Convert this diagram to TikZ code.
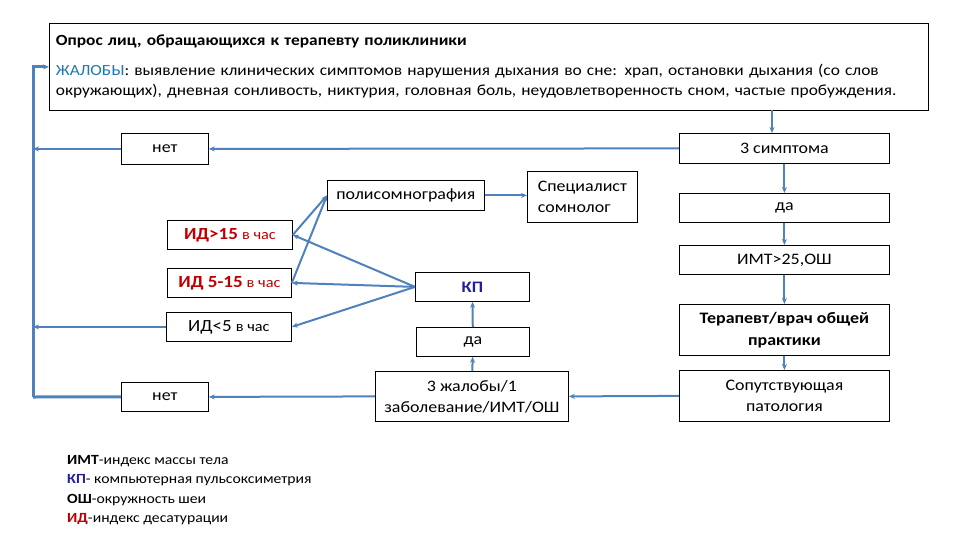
\documentclass[tikz,border=0pt]{standalone}
\usepackage{fontspec}
\setmainfont[FakeStretch=1.12]{Carlito}
\usepackage{tikz}
\usetikzlibrary{arrows.meta, calc}

\definecolor{linkblue}{HTML}{4F81BD}
\definecolor{complblue}{HTML}{1F78B4}
\definecolor{kpblue}{HTML}{1F1FA0}
\definecolor{idred}{HTML}{C00000}

\tikzset{
  box/.style={draw=black, line width=0.8pt, fill=white, inner sep=2pt, align=center,
    anchor=north west, font=\fontsize{16}{21}\selectfont},
  link/.style={draw=linkblue, line width=2pt, -{Stealth[length=6pt, width=5pt]}},
  railline/.style={draw=linkblue, line width=3pt}
}

\begin{document}
\begin{tikzpicture}[x=1pt, y=-1pt]

	\useasboundingbox (0,0) rectangle (960,540);

	% top box
	\node[box, minimum width=879pt, minimum height=87pt, align=left, text width=866pt,
	      inner sep=6pt, font=\fontsize{15.5}{20}\selectfont] (top) at (49,23)
	  {\textbf{Опрос лиц, обращающихся к терапевту поликлиники}\\[10pt]
	   \textcolor{complblue}{ЖАЛОБЫ}: выявление клинических симптомов нарушения дыхания во сне: храп, остановки дыхания (со слов\\
	   окружающих), дневная сонливость, никтурия, головная боль, неудовлетворенность сном, частые пробуждения.};

	% right column
	\node[box, minimum width=210pt, minimum height=30pt] (symp) at (679,133) {3 симптома};
	\node[box, minimum width=210pt, minimum height=29pt] (yes1) at (679,193) {да};
	\node[box, minimum width=210pt, minimum height=29pt] (bmi) at (679,245) {ИМТ>25,ОШ};
	\node[box, minimum width=210pt, minimum height=51pt, font=\fontsize{16}{22}\selectfont\bfseries] (gp) at (679,304) {Терапевт/врач общей\\практики};
	\node[box, minimum width=210pt, minimum height=51pt] (comorb) at (679,370) {Сопутствующая\\патология};

	% middle
	\node[box, minimum width=87pt, minimum height=31pt] (no1) at (121,133) {нет};
	\node[box, minimum width=157pt, minimum height=30pt] (psg) at (327,180) {полисомнография};
	\node[box, minimum width=110pt, minimum height=51pt, align=left] (somn) at (527,171) {Специалист\\сомнолог};
	\node[box, minimum width=125pt, minimum height=29pt] (id15) at (167,220)
	  {\textcolor{idred}{\fontsize{17}{21}\selectfont\bfseries ИД>15} \textcolor{idred}{\fontsize{14.5}{21}\selectfont в час}};
	\node[box, minimum width=124pt, minimum height=29pt] (id515) at (167,268)
	  {\textcolor{idred}{\fontsize{17}{21}\selectfont\bfseries ИД 5-15} \textcolor{idred}{\fontsize{14.5}{21}\selectfont в час}};
	\node[box, minimum width=125pt, minimum height=29pt] (id5) at (166,312)
	  {{\fontsize{17}{21}\selectfont ИД<5} {\fontsize{14.5}{21}\selectfont в час}};
	\node[box, minimum width=114pt, minimum height=29pt, font=\fontsize{16}{21}\selectfont\bfseries] (kp) at (415,272) {\textcolor{kpblue}{КП}};
	\node[box, minimum width=113pt, minimum height=29pt] (yes2) at (416,327) {да};
	\node[box, minimum width=193pt, minimum height=50pt] (compl) at (375,371) {3 жалобы/1\\заболевание/ИМТ/ОШ};
	\node[box, minimum width=87pt, minimum height=29pt] (no2) at (121,382) {нет};

	% legend
	\node[anchor=north west, align=left, inner sep=0pt, font=\fontsize{14}{19.5}\selectfont] (legend) at (67,455)
	  {\textbf{ИМТ}-индекс массы тела\\
	   \textcolor{kpblue}{\textbf{КП}}- компьютерная пульсоксиметрия\\
	   \textbf{ОШ}-окружность шеи\\
	   \textcolor{idred}{\textbf{ИД}}-индекс десатурации};

	% connectors
	\coordinate (rail) at (33,397);
	\coordinate (drop) at (772,110);
	\draw[railline] (no2.west) -- (rail);
	\draw[link, line width=3pt] (rail) |- (top.west);
	\draw[link] (drop) -- (drop |- symp.north);
	\draw[link] (symp.west) -- (no1.east);
	\draw[link] (no1.west) -- (no1.west -| rail);
	\draw[link] (symp) -- (yes1);
	\draw[link] (yes1) -- (bmi);
	\draw[link] (bmi) -- (gp);
	\draw[link] (gp) -- (comorb);
	\draw[link] (comorb.west) -- (compl.east);
	\draw[link] (compl.west) -- (no2.east);
	\draw[link] (compl) -- (yes2);
	\draw[link] (yes2) -- (kp);
	\draw[link] (kp.west) -- (id15.east);
	\draw[link] (kp.west) -- (id515.east);
	\draw[link] (kp.west) -- (id5.east);
	\draw[link] (id15.east) -- (psg.west);
	\draw[link] (id515.east) -- (psg.west);
	\draw[link] (id5.west) -- (id5.west -| rail);
	\draw[link] (psg.east) -- (psg.east -| somn.west);

\end{tikzpicture}
\end{document}
